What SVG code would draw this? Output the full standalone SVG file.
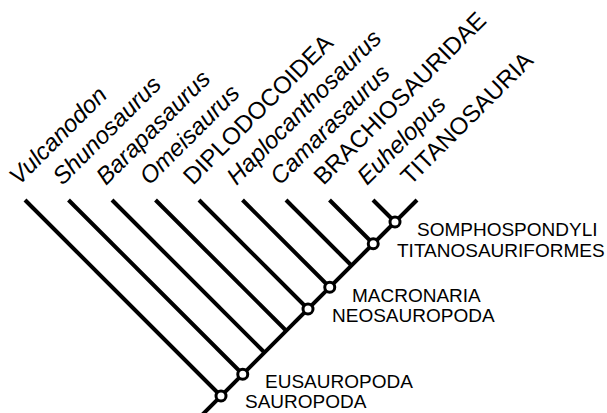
<svg xmlns="http://www.w3.org/2000/svg" width="607" height="413" viewBox="0 0 607 413">
<style>
.br{stroke:#000;stroke-width:4;fill:none;stroke-linecap:butt}
.nd{fill:#fff;stroke:#000;stroke-width:3}
.tx{font-family:"Liberation Sans",Arial,sans-serif;font-size:24px;fill:#000}
.it{font-style:italic}
.nl{font-family:"Liberation Sans",Arial,sans-serif;font-size:19px;fill:#000}
</style>
<rect width="607" height="413" fill="#fff"/>
<g id="connectors">
<line class="br" x1="197" y1="420" x2="417" y2="200"/>
<line class="br" x1="25" y1="200" x2="221" y2="396"/>
<line class="br" x1="68.5" y1="200" x2="242.75" y2="374.25"/>
<line class="br" x1="112" y1="200" x2="264.5" y2="352.5"/>
<line class="br" x1="155.5" y1="200" x2="286.25" y2="330.75"/>
<line class="br" x1="199" y1="200" x2="308" y2="309"/>
<line class="br" x1="242.5" y1="200" x2="329.75" y2="287.25"/>
<line class="br" x1="286" y1="200" x2="351.5" y2="265.5"/>
<line class="br" x1="329.5" y1="200" x2="373.25" y2="243.75"/>
<line class="br" x1="373" y1="200" x2="395" y2="222"/>
</g>
<g id="taxa">
<text class="tx it" transform="translate(19,186) rotate(-45)">Vulcanodon</text>
<text class="tx it" transform="translate(62.5,186) rotate(-45)">Shunosaurus</text>
<text class="tx it" transform="translate(106,186) rotate(-45)">Barapasaurus</text>
<text class="tx it" transform="translate(149.5,186) rotate(-45)">Omeisaurus</text>
<text class="tx" transform="translate(193,186) rotate(-45)">DIPLODOCOIDEA</text>
<text class="tx it" transform="translate(236.5,186) rotate(-45)">Haplocanthosaurus</text>
<text class="tx it" transform="translate(280,186) rotate(-45)">Camarasaurus</text>
<text class="tx" transform="translate(323.5,186) rotate(-45)">BRACHIOSAURIDAE</text>
<text class="tx it" transform="translate(367,186) rotate(-45)">Euhelopus</text>
<text class="tx" transform="translate(410.5,186) rotate(-45)">TITANOSAURIA</text>
</g>
<g id="node-sauropoda"><circle class="nd" cx="221" cy="396" r="5"/><text class="nl" x="245" y="408">SAUROPODA</text></g>
<g id="node-eusauropoda"><circle class="nd" cx="242.75" cy="374.25" r="5"/><text class="nl" x="265" y="388">EUSAUROPODA</text></g>
<g id="node-neosauropoda"><circle class="nd" cx="308" cy="309" r="5"/><text class="nl" x="332" y="322">NEOSAUROPODA</text></g>
<g id="node-macronaria"><circle class="nd" cx="329.75" cy="287.25" r="5"/><text class="nl" x="352" y="302">MACRONARIA</text></g>
<g id="node-titanosauriformes"><circle class="nd" cx="373.25" cy="243.75" r="5"/><text class="nl" x="397" y="257">TITANOSAURIFORMES</text></g>
<g id="node-somphospondyli"><circle class="nd" cx="395" cy="222" r="5"/><text class="nl" x="417" y="236">SOMPHOSPONDYLI</text></g>
</svg>
